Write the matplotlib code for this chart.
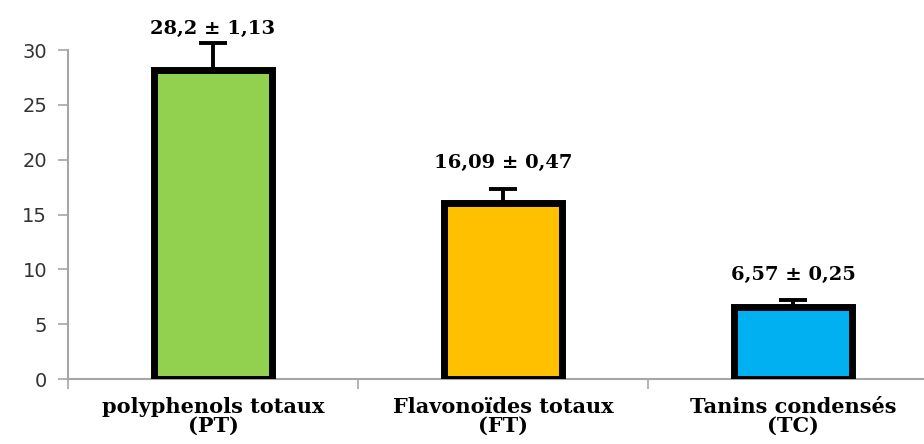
import matplotlib
matplotlib.use('agg')
import matplotlib.pyplot as plt
import numpy as np

categories = ['polyphenols totaux\n(PT)', 'Flavonoïdes totaux\n(FT)', 'Tanins condensés\n(TC)']
values = [28.2, 16.09, 6.57]
err_up = [2.4, 1.2, 0.62]
labels = ['28,2 ± 1,13', '16,09 ± 0,47', '6,57 ± 0,25']
label_y = [31.9, 19.7, 9.5]
colors = ['#92D050', '#FFC000', '#00B0F0']

fig = plt.figure(figsize=(9.24, 4.44), dpi=100)
ax = fig.add_axes([68 / 924, 1 - 379 / 444, 870 / 924, 329 / 444])

x = np.arange(len(values))
ax.bar(x, values, width=0.41, color=colors, edgecolor='black', linewidth=5, zorder=3)
ax.errorbar(x, values, yerr=[np.zeros(3), err_up], fmt='none', ecolor='black',
            elinewidth=2.8, capsize=10, capthick=2.8, zorder=2, clip_on=False)

for xi, lab, ly in zip(x, labels, label_y):
    ax.text(xi, ly, lab, ha='center', va='center', fontsize=14, fontweight='bold',
            family='DejaVu Serif', clip_on=False)

ax.set_xlim(-0.5, 2.5)
ax.set_ylim(0, 30)
ax.set_yticks(range(0, 31, 5))
ax.tick_params(axis='y', labelsize=14, colors='#A6A6A6', length=7, width=1.2, pad=8, labelcolor='#333333')
ax.set_xticks(x)
ax.set_xticklabels(categories, family='DejaVu Serif', fontsize=15, fontweight='bold', linespacing=0.95)
ax.tick_params(axis='x', length=0, pad=13)
ax.set_xticks([-0.5, 0.5, 1.5, 2.5], minor=True)
ax.tick_params(axis='x', which='minor', length=7, color='#A6A6A6', width=1.2)

for s in ['top', 'right']:
    ax.spines[s].set_visible(False)
for s in ['left', 'bottom']:
    ax.spines[s].set_color('#A6A6A6')
    ax.spines[s].set_linewidth(1.5)

fig.savefig('out.png', dpi=100)
